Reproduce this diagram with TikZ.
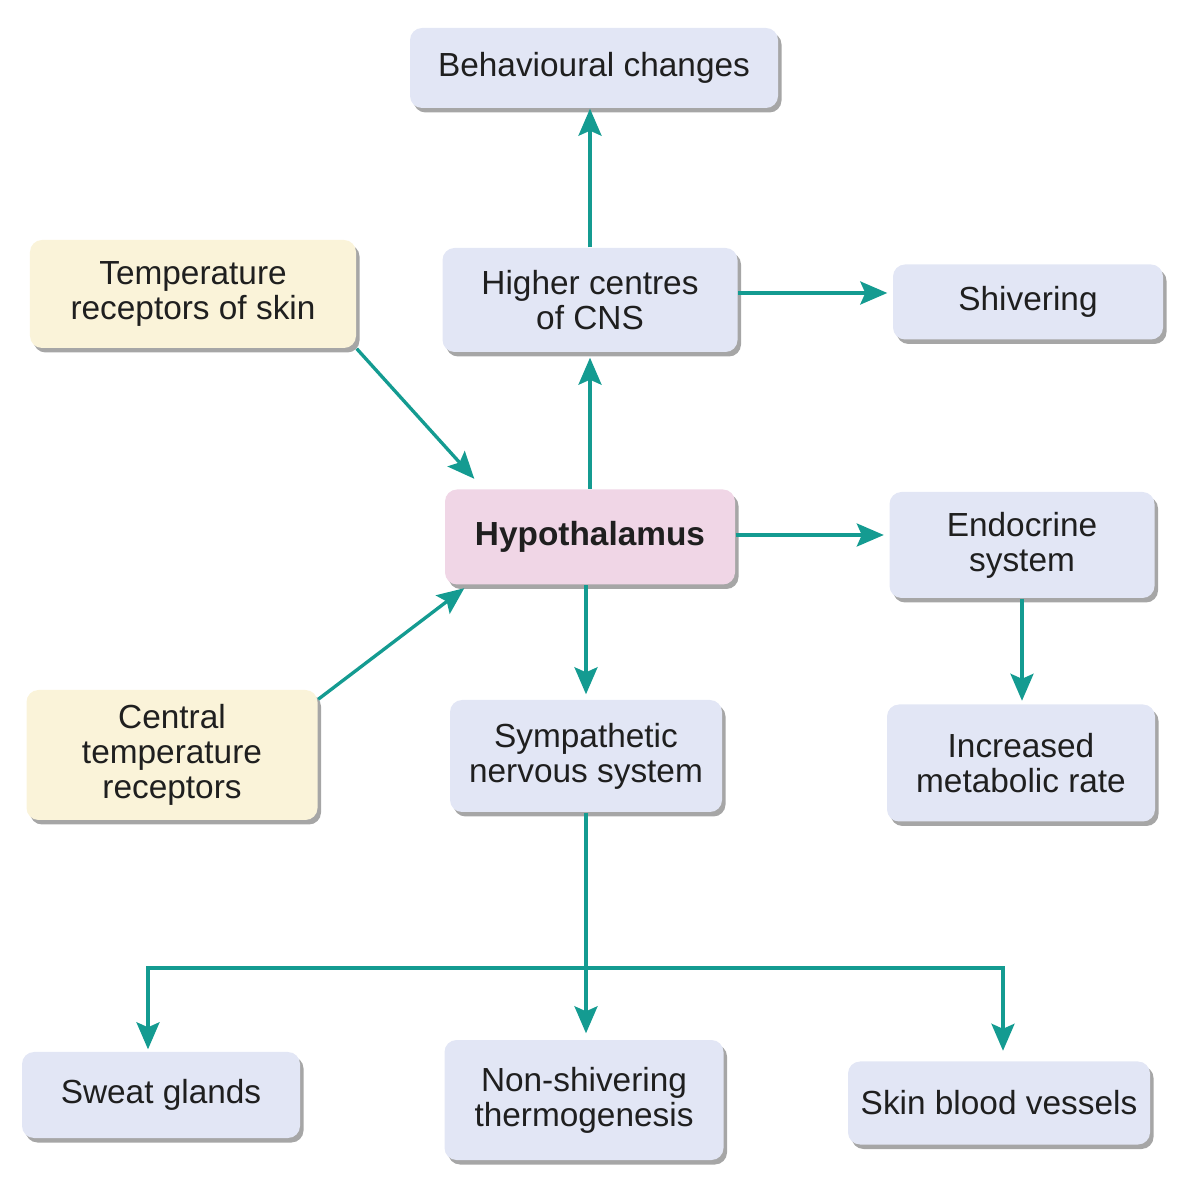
\documentclass[tikz,border=0pt]{standalone}
\usepackage{fontspec}
\setmainfont{Liberation Sans}
\usetikzlibrary{arrows.meta,shadows,calc}
\definecolor{boxblue}{RGB}{226,230,245}
\definecolor{inyellow}{RGB}{250,243,217}
\definecolor{hypopink}{RGB}{240,214,230}
\definecolor{flowteal}{RGB}{20,155,145}
\tikzset{
  procbox/.style={fill=boxblue, rounded corners=0.12cm, align=center, inner sep=2pt,
    font=\fontsize{9.5}{10}\selectfont, text=black!88,
    drop shadow={shadow xshift=0.35mm, shadow yshift=-0.45mm, fill=black, opacity=0.35}},
  inbox/.style={procbox, fill=inyellow},
  hypobox/.style={procbox, fill=hypopink, font=\fontsize{9.5}{10}\selectfont\bfseries},
  flow/.style={draw=flowteal, line width=0.95pt, -{Stealth[length=2.7mm,width=2.3mm,inset=0.5mm]}},
}
\begin{document}
\begin{tikzpicture}
        \useasboundingbox (0,0) rectangle (11.83,11.80);

        \coordinate (BEH) at (5.94, 11.12);
        \coordinate (SKN) at (1.93, 8.86);
        \coordinate (CNS) at (5.90, 8.80);
        \coordinate (SHV) at (10.28, 8.78);
        \coordinate (HYP) at (5.90, 6.43);
        \coordinate (END) at (10.22, 6.35);
        \coordinate (CTR) at (1.72, 4.25);
        \coordinate (SYM) at (5.86, 4.24);
        \coordinate (MET) at (10.21, 4.17);
        \coordinate (SWG) at (1.61, 0.85);
        \coordinate (NST) at (5.84, 0.80);
        \coordinate (SBV) at (9.99, 0.77);

        % branch points below the sympathetic system
        \coordinate (BRL) at (1.48, 2.12);
        \coordinate (BRR) at (10.03, 2.12);

        \node [procbox, minimum width=3.68cm, minimum height=0.80cm] (behav) at (BEH) {Behavioural changes};
        \node [inbox, minimum width=3.26cm, minimum height=1.08cm] (skin) at (SKN) {Temperature\\receptors of skin};
        \node [procbox, minimum width=2.95cm, minimum height=1.04cm] (cns) at (CNS) {Higher centres\\of CNS};
        \node [procbox, minimum width=2.70cm, minimum height=0.75cm] (shiv) at (SHV) {Shivering};
        \node [hypobox, minimum width=2.90cm, minimum height=0.95cm] (hypo) at (HYP) {Hypothalamus};
        \node [procbox, minimum width=2.65cm, minimum height=1.06cm] (endo) at (END) {Endocrine\\system};
        \node [inbox, minimum width=2.91cm, minimum height=1.30cm] (central) at (CTR) {Central\\temperature\\receptors};
        \node [procbox, minimum width=2.72cm, minimum height=1.12cm] (symp) at (SYM) {Sympathetic\\nervous system};
        \node [procbox, minimum width=2.68cm, minimum height=1.17cm] (metab) at (MET) {Increased\\metabolic rate};
        \node [procbox, minimum width=2.78cm, minimum height=0.86cm] (sweat) at (SWG) {Sweat glands};
        \node [procbox, minimum width=2.79cm, minimum height=1.20cm] (nonshiv) at (NST) {Non-shivering\\thermogenesis};
        \node [procbox, minimum width=3.02cm, minimum height=0.83cm] (vessels) at (SBV) {Skin blood vessels};

        \draw [flow] (cns.north) -- (cns.north |- behav.south);
        \draw [flow, shorten >=0.5mm] (hypo.north) -- (hypo.north |- cns.south);
        \draw [flow, shorten >=0.5mm] ([yshift=0.07cm]cns.east) -- ([yshift=0.07cm]cns.east -| shiv.west);
        \draw [flow] (skin.south east) -- ([xshift=0.3cm, yshift=0.1cm]hypo.north west);
        \draw [flow] ([yshift=-0.1cm]central.north east) -- ([xshift=0.2cm, yshift=-0.03cm]hypo.south west);
        \draw [flow, shorten >=0.5mm] ([yshift=0.02cm]hypo.east) -- ([yshift=0.02cm]hypo.east -| endo.west);
        \draw [flow, shorten >=0.3mm] (endo.south) -- (endo.south |- metab.north);
        \draw [flow, shorten >=0.5mm] (symp.north |- hypo.south) -- (symp.north);
        \draw [flow, shorten >=0.6mm] (symp.south) -- (symp.south |- nonshiv.north);
        \draw [flow, shorten >=0.2mm] (BRR) -- (BRL) -- (BRL |- sweat.north);
        \draw [flow, shorten >=1mm] (BRL) -- (BRR) -- (BRR |- vessels.north);
      \end{tikzpicture}
\end{document}
